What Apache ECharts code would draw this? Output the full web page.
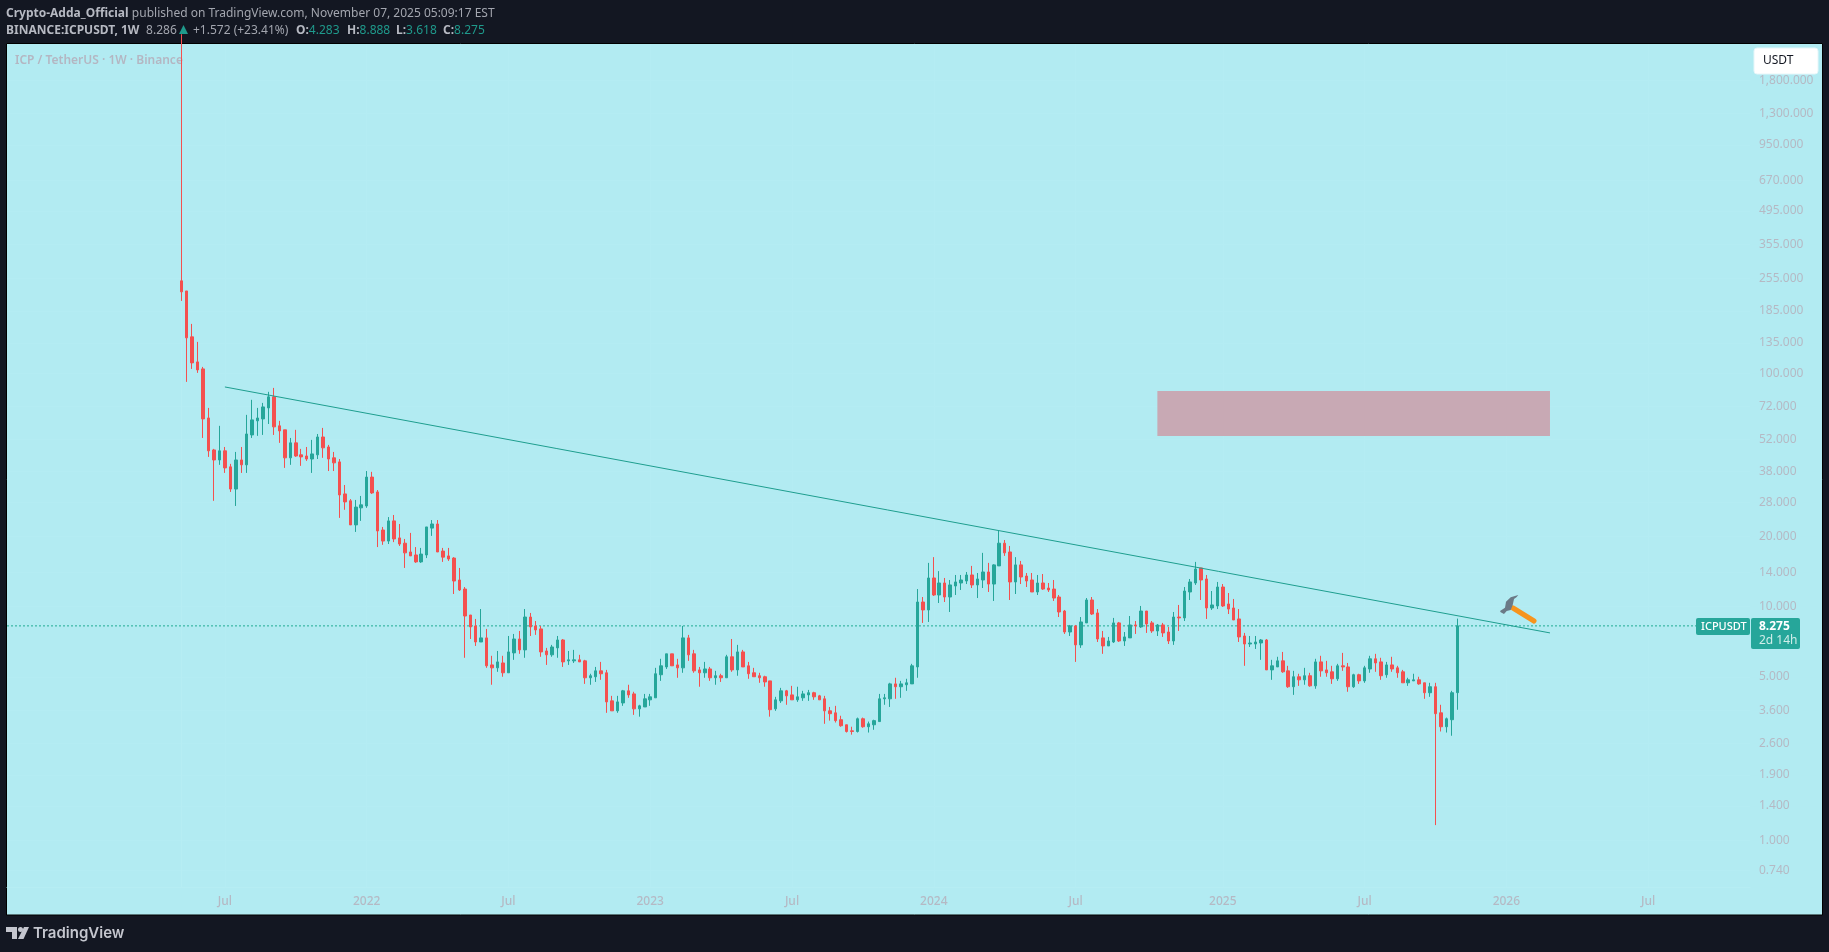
<!DOCTYPE html>
<html>
<head>
<meta charset="utf-8">
<title>ICPUSDT 1W</title>
<style>
    html, body { margin: 0; padding: 0; background: #131722; }
    #chart { width: 1829px; height: 952px; }
</style>
<script src="https://cdn.jsdelivr.net/npm/echarts@6/dist/echarts.min.js"></script>
</head>
<body>
<div id="chart"></div>
<script>
const opens = [
    248.6,225,143.1,111.8,104.3,64.3,46.9,42.5,46.5,39.7,
    31.9,42.5,40.5,54.4,62.5,63.7,71.0,79.2,59.5,57.2,
    43.4,50.3,44.7,44.2,42.9,44.7,53.3,48.3,43.4,41.7,
    30.4,28.4,22.4,26.5,27.0,35.9,31.0,21.3,19.1,23.3,
    19.7,18.7,17.15,16.65,15.55,16.65,21.7,22.6,17.3,16.5,
    16.15,13.01,11.9,9.21,8.27,7.06,7.35,5.63,5.47,5.74,
    5.21,6.34,7.27,6.53,9.03,8.27,8.03,6.46,6.22,6.66,
    7.20,5.86,5.86,5.92,5.86,4.96,5.01,5.31,5.21,3.95,
    3.58,3.87,4.36,4.23,3.65,3.72,3.99,4.07,5.11,5.52,
    6.28,5.63,5.47,7.35,6.28,5.36,5.21,5.41,4.96,5.06,
    4.96,6.10,5.36,6.40,5.58,5.21,5.06,5.01,4.81,3.65,
    3.95,4.36,4.19,3.99,4.07,4.19,4.28,4.15,4.03,3.58,
    3.51,3.28,3.12,2.94,2.92,3.31,3.06,3.12,3.22,4.03,
    4.03,4.67,4.54,4.63,4.67,5.52,10.47,9.68,13.27,11.22,
    12.63,11.0,12.26,12.63,12.88,13.67,12.39,13.01,14.08,12.5,
    14.95,18.7,17.15,12.76,15.1,13.53,13.01,11.56,12.63,12.02,
    11.9,11.0,9.58,7.79,8.27,6.86,8.52,10.68,9.40,7.35,
    6.79,7.06,8.52,7.13,7.35,8.35,8.19,9.58,8.52,7.87,
    8.35,7.79,7.13,9.03,8.95,11.56,12.63,14.65,13.14,9.87,
    10.07,12.14,10.27,9.87,8.86,7.49,6.92,6.92,6.99,7.20,
    5.36,5.52,5.86,5.31,4.54,5.01,4.86,5.06,4.58,5.80,
    5.36,5.26,4.91,5.58,5.52,4.54,5.11,4.81,5.41,5.98,
    5.80,5.11,5.63,5.47,5.26,4.72,4.81,4.86,4.72,4.28,
    4.54,3.51,3.06,3.28,4.283
];
const closes = [
    223,141.7,110.7,103.3,63.7,46.5,42.5,46.5,39.3,31.9,
    42.5,40.5,54.9,63.1,64.3,71.7,79.2,58.9,56.6,43.4,
    50.3,44.2,43.8,42.9,45.1,53.3,47.9,42.9,41.3,30.1,
    28.1,22.4,26.7,27.3,35.9,30.7,21.1,19.1,23.3,19.5,
    18.55,17.0,16.5,15.55,16.8,21.95,22.6,17.15,16.3,16.0,
    12.88,11.79,9.12,8.19,7.06,7.35,5.58,5.47,5.80,5.21,
    6.40,7.27,6.53,9.03,8.19,7.95,6.40,6.22,6.72,7.20,
    5.80,5.92,5.92,5.80,4.96,5.06,5.31,5.16,3.91,3.58,
    3.91,4.36,4.19,3.65,3.76,4.03,4.11,5.16,5.58,6.28,
    5.58,5.47,7.35,6.22,5.31,5.21,5.41,4.96,5.06,4.96,
    6.10,5.36,6.40,5.52,5.16,5.01,4.96,4.76,3.62,3.99,
    4.36,4.15,3.99,4.11,4.23,4.28,4.11,3.99,3.58,3.48,
    3.25,3.09,2.92,2.92,3.31,3.06,3.15,3.25,4.03,4.07,
    4.67,4.54,4.67,4.72,5.58,10.47,9.68,13.27,11.22,12.63,
    11.0,12.39,12.76,13.01,13.67,12.39,13.14,14.08,12.5,15.1,
    18.7,17.0,12.76,15.1,13.4,12.88,11.56,12.63,11.9,11.79,
    10.89,9.49,7.79,8.27,6.86,8.60,10.68,9.30,7.27,6.79,
    7.13,8.52,7.13,7.42,8.35,8.27,9.58,8.43,7.87,8.35,
    7.72,7.13,9.03,8.95,11.67,12.76,14.5,13.01,9.87,10.17,
    12.14,10.07,9.77,8.77,7.42,6.92,6.99,7.06,7.20,5.36,
    5.58,5.86,5.26,4.54,5.01,4.86,5.06,4.58,5.80,5.31,
    5.21,4.91,5.58,5.52,4.54,5.11,4.81,5.47,5.98,5.74,
    5.06,5.63,5.41,5.21,4.72,4.86,4.86,4.67,4.28,4.54,
    3.48,3.06,3.31,4.28,8.275
];
const lows = [
    204,91.8,104.3,100.3,52.8,43.8,28.4,40.5,37.4,31.0,
    27.0,37.4,37.4,52.8,53.9,54.4,60.6,54.4,50.3,39.3,
    40.5,43.8,40.1,42.1,37.4,42.9,43.4,38.1,38.1,24.0,
    26.0,22.4,20.9,23.3,26.5,30.4,18.0,18.4,18.55,18.9,
    18.2,14.65,16.5,15.4,15.4,16.15,20.1,17.15,15.55,15.7,
    11.33,11.67,6.04,7.27,6.79,7.06,5.47,4.63,5.26,5.01,
    5.21,5.92,6.28,6.04,7.49,7.57,6.10,5.63,6.10,6.04,
    5.52,5.63,5.74,5.80,4.67,4.63,4.76,4.86,3.51,3.58,
    3.51,3.76,4.07,3.44,3.38,3.72,3.76,4.07,4.81,5.41,
    5.58,4.96,5.21,5.86,5.21,4.54,4.96,4.81,4.63,4.76,
    4.96,5.26,5.06,5.52,4.91,5.01,4.72,4.54,3.38,3.58,
    3.87,3.80,3.99,3.91,3.95,3.95,3.99,3.99,3.15,3.25,
    3.19,3.06,2.89,2.83,2.89,3.03,2.89,2.97,3.22,3.80,
    3.72,4.03,4.07,4.36,4.67,4.96,8.52,8.60,11.11,10.37,
    10.47,9.49,11.22,11.79,12.5,12.02,10.89,12.02,11.56,10.58,
    14.95,16.5,10.68,11.33,12.5,12.14,11.56,11.22,11.79,11.56,
    10.58,9.03,7.64,7.49,5.80,6.66,8.52,9.21,7.06,6.28,
    6.79,6.99,7.06,6.79,7.35,7.64,8.11,7.72,7.72,7.49,
    7.42,6.92,6.86,7.87,8.68,10.68,12.39,10.68,8.86,9.68,
    9.77,9.97,9.30,8.77,7.06,5.58,6.72,6.59,5.92,5.36,
    4.86,5.52,5.21,4.49,4.19,4.58,4.63,4.54,4.45,5.01,
    5.01,4.67,4.81,5.31,4.32,4.49,4.67,4.72,5.21,5.26,
    4.86,4.96,5.26,4.96,4.72,4.58,4.81,4.63,4.03,4.11,
    1.16,2.92,2.89,2.80,3.618
];
const highs = [
    2830,225,162.6,136.2,106.4,71.0,47.4,59.5,48.3,40.9,
    46.0,48.3,66.3,76.9,71.0,74.6,83.2,86.5,62.5,57.2,
    52.8,57.2,47.4,48.3,51.8,54.9,58.3,49.3,46.0,42.9,
    33.2,28.9,28.65,29.8,38.1,37.8,31.6,21.95,24.2,24.7,
    22.6,19.5,20.7,18.0,17.85,21.95,23.5,23.5,17.85,17.85,
    16.3,14.65,12.14,9.21,8.86,9.77,8.03,6.16,6.46,6.16,
    7.49,7.64,7.87,9.77,9.40,8.68,8.27,6.66,6.86,7.49,
    7.27,6.46,6.53,6.22,5.92,5.16,5.52,5.80,5.36,4.15,
    4.15,4.40,4.63,4.32,3.80,4.23,4.23,5.47,5.98,6.28,
    6.28,5.98,8.27,7.57,6.53,5.52,5.80,5.52,5.31,5.16,
    6.22,7.27,6.86,6.53,5.80,5.47,5.21,5.06,4.81,4.11,
    4.49,4.40,4.58,4.54,4.36,4.40,4.32,4.19,4.15,3.72,
    3.76,3.41,3.12,3.06,3.35,3.35,3.22,3.28,4.23,4.23,
    4.72,4.96,4.81,4.91,5.69,11.9,11.0,15.4,16.3,14.2,
    13.27,13.01,13.67,13.67,14.08,14.95,13.94,17.0,15.4,15.2,
    21.1,19.3,18.2,16.3,15.7,13.94,13.94,13.67,13.8,12.63,
    13.01,11.22,9.68,8.35,8.35,9.03,10.89,11.0,9.77,7.87,
    7.42,8.95,8.60,7.79,9.12,8.68,10.07,9.58,8.68,8.43,
    8.52,8.19,9.49,10.17,12.14,13.14,15.55,14.65,13.67,11.67,
    12.76,12.5,11.44,10.79,9.77,7.72,7.49,7.49,7.27,7.27,
    5.92,6.10,6.40,5.58,5.31,5.16,5.47,5.21,5.98,6.16,
    5.86,5.58,5.69,6.34,5.74,5.16,5.16,5.58,6.16,6.28,
    6.04,5.80,6.10,5.58,5.36,4.96,5.16,5.01,4.72,4.72,
    4.72,3.80,3.35,4.36,8.888
];

const priceTicks = [1800, 1300, 950, 670, 495, 355, 255, 185, 135, 100, 72, 52, 38, 28, 20, 14, 10, 5, 3.6, 2.6, 1.9, 1.4, 1, 0.74];
const timeTickDates = ['2021-07-05', '2022-01-03', '2022-07-04', '2023-01-02', '2023-07-03', '2024-01-01', '2024-07-01', '2025-01-06', '2025-07-07', '2026-01-05', '2026-07-06'];
const timeTickLabels = ['Jul', '2022', 'Jul', '2023', 'Jul', '2024', 'Jul', '2025', 'Jul', '2026', 'Jul'];

const trendDates = ['2021-07-05', '2026-03-02'];
const trendPrices = [87.3, 7.72];
const zoneDates = ['2024-10-14', '2026-03-02'];
const zonePrices = [83.9, 53.8];
const lastPrice = 8.275;

// header readout: label, value and where each pair starts
const ohlcLabels = ['O:', 'H:', 'L:', 'C:'];
const ohlcValues = ['4.283', '8.888', '3.618', '8.275'];
const ohlcX = [296, 347, 396, 443];

// x axis runs in weeks counted from the first candle
const WEEK = 7 * 24 * 3600 * 1000;
const firstWeek = Date.UTC(2021, 4, 10);
const xMin = -31.96;
const xMax = 287.68;
const weekOf = (d) => Math.round((new Date(d + 'T00:00:00Z').getTime() - firstWeek) / WEEK);
const timeTicks = timeTickDates.map(weekOf);

const UP = '#26A69A';
const DOWN = '#F4504F';
const LABEL = '#B5B9C4';
const FONT = '"Noto Sans", sans-serif';
const HEADER_Y1 = 13.5;
const HEADER_Y2 = 30.5;

const candles = opens.map((o, i) => [i, o, closes[i], lows[i], highs[i]]);

const richHeader = {
    b: { fontFamily: FONT, fontSize: 12, fontWeight: 700, fill: '#B6B9C2' },
    r: { fontFamily: FONT, fontSize: 12, fill: '#A3A6AF' },
    g: { fontFamily: FONT, fontSize: 12, fill: '#1F9A8C' },
};

const ohlcElements = ohlcLabels.map((label, i) => ({
    type: 'text', x: ohlcX[i], y: HEADER_Y2, z: 50,
    style: { text: '{b|' + label + '}{g|' + ohlcValues[i] + '}', verticalAlign: 'middle', rich: richHeader },
}));

const chart = echarts.init(document.getElementById('chart'), null, { renderer: 'canvas' });

chart.setOption({
    animation: false,
    backgroundColor: '#131722',
    textStyle: { fontFamily: FONT },
    grid: { left: 7, right: 79, top: 44, bottom: 65 },
    xAxis: {
        type: 'value',
        min: xMin,
        max: xMax,
        axisLine: { show: true, onZero: false, lineStyle: { color: '#B6EDF3', width: 1 } },
        axisTick: { show: false, customValues: timeTicks },
        splitLine: { show: true, lineStyle: { color: '#B4ECF3', width: 1 } },
        axisLabel: {
            customValues: timeTicks,
            margin: 9,
            fontFamily: FONT,
            color: LABEL,
            fontSize: 12,
            fontWeight: 500,
            formatter: (value) => {
                const idx = timeTicks.indexOf(value);
                return idx >= 0 ? timeTickLabels[idx] : '';
            },
        },
    },
    yAxis: {
        type: 'log',
        logBase: 10,
        position: 'right',
        min: 0.63,
        max: 2570,
        axisLine: { show: true, lineStyle: { color: '#B6EDF3', width: 1 } },
        axisTick: { show: false, customValues: priceTicks },
        splitLine: { show: true, lineStyle: { color: '#B4ECF3', width: 1 } },
        axisLabel: {
            customValues: priceTicks,
            margin: 9,
            padding: [3, 0, 0, 0],
            fontFamily: FONT,
            color: LABEL,
            fontSize: 12,
            formatter: (value) => Number(value).toLocaleString('en-US', { minimumFractionDigits: 3, maximumFractionDigits: 3 }),
        },
    },
    series: [
        {
            type: 'line',
            name: 'zone',
            data: [],
            symbol: 'none',
            z: 1,
            markArea: {
                silent: true,
                itemStyle: { color: '#C8A9B4', opacity: 1 },
                data: [[
                    { xAxis: weekOf(zoneDates[0]), yAxis: zonePrices[0] },
                    { xAxis: weekOf(zoneDates[1]), yAxis: zonePrices[1] },
                ]],
            },
        },
        {
            type: 'line',
            name: 'last price',
            data: [[xMin, lastPrice], [xMax, lastPrice]],
            symbol: 'none',
            silent: true,
            z: 2,
            lineStyle: { color: '#22AB94', width: 1, type: [2, 2] },
        },
        {
            type: 'candlestick',
            name: 'ICPUSDT',
            data: candles,
            encode: { x: 0, y: [1, 2, 3, 4] },
            barWidth: 3,
            clip: true,
            z: 3,
            itemStyle: {
                color: UP,
                color0: DOWN,
                borderColor: UP,
                borderColor0: DOWN,
                borderWidth: 1,
            },
        },
        {
            type: 'line',
            name: 'trend',
            data: [[weekOf(trendDates[0]), trendPrices[0]], [weekOf(trendDates[1]), trendPrices[1]]],
            symbol: 'none',
            silent: true,
            z: 4,
            lineStyle: { color: '#1E9E8F', width: 1 },
        },
    ],
    graphic: { elements: [
        // pane behind the plot
        { type: 'rect', z: -1, shape: { x: 6.5, y: 43.5, width: 1816, height: 871.5 }, style: { fill: '#B2EBF2', stroke: '#000' } },
        // header lines
        {
            type: 'text', x: 6, y: HEADER_Y1, z: 50,
            style: {
                text: '{b|Crypto-Adda_Official} {r|published on TradingView.com, November 07, 2025 05:09:17 EST}',
                verticalAlign: 'middle',
                rich: richHeader,
            },
        },
        {
            type: 'text', x: 6, y: HEADER_Y2, z: 50,
            style: {
                text: '{b|BINANCE:ICPUSDT, 1W}  {r|8.286}',
                verticalAlign: 'middle',
                rich: richHeader,
            },
        },
        {
            type: 'polygon', z: 50,
            shape: { points: [[179, 34], [188, 34], [183.5, 25]] },
            style: { fill: '#1F9A8C' },
        },
        {
            type: 'text', x: 193, y: HEADER_Y2, z: 50,
            style: { text: '{r|+1.572 (+23.41%)}', verticalAlign: 'middle', rich: richHeader },
        },
        ...ohlcElements,
        // watermark title
        {
            type: 'text', x: 15, y: 60.5, z: 1,
            style: { text: 'ICP / TetherUS · 1W · Binance', verticalAlign: 'middle', fontFamily: FONT, fontSize: 12, fontWeight: 600, fill: '#B4B6C2' },
        },
        // currency button
        { type: 'rect', z: 50, shape: { x: 1754, y: 48, width: 64, height: 26, r: 3 }, style: { fill: '#fff', stroke: '#E6F6F9' } },
        {
            type: 'text', x: 1763, y: 61, z: 51,
            style: { text: 'USDT', verticalAlign: 'middle', fontFamily: FONT, fontSize: 12, fill: '#131722' },
        },
        // last price tags
        { type: 'rect', z: 50, shape: { x: 1696, y: 618, width: 54, height: 17, r: 2 }, style: { fill: '#26A69A' } },
        {
            type: 'text', x: 1701, y: 626.5, z: 51,
            style: { text: 'ICPUSDT', verticalAlign: 'middle', fontFamily: FONT, fontSize: 11, fontWeight: 500, fill: '#fff' },
        },
        { type: 'rect', z: 50, shape: { x: 1751, y: 618, width: 49, height: 31, r: 2 }, style: { fill: '#26A69A' } },
        {
            type: 'text', x: 1759, y: 626.5, z: 51,
            style: { text: '8.275', verticalAlign: 'middle', fontFamily: FONT, fontSize: 12, fontWeight: 700, fill: '#fff' },
        },
        {
            type: 'text', x: 1759, y: 641, z: 51,
            style: { text: '2d 14h', verticalAlign: 'middle', fontFamily: FONT, fontSize: 12, fill: '#CFEDE9' },
        },
        // hammer drawing
        {
            type: 'line', z: 40,
            shape: { x1: 1513, y1: 608, x2: 1534, y2: 621 },
            style: { stroke: '#F7941D', lineWidth: 5, lineCap: 'round' },
        },
        {
            type: 'polygon', z: 41,
            shape: { points: [[1500, 611], [1505, 607.7], [1506, 601.7], [1510.7, 597.3], [1518.3, 595], [1516.7, 597], [1514, 599], [1512.7, 605], [1510.7, 610], [1506.7, 611], [1504, 614], [1500.7, 612.3]] },
            style: { fill: '#6B7A87' },
        },
        // TradingView logo
        { type: 'polygon', z: 50, shape: { points: [[6, 927], [17, 927], [17, 939], [12, 939], [12, 932], [6, 932]] }, style: { fill: '#C4C6CE' } },
        { type: 'circle', z: 50, shape: { cx: 20.5, cy: 929.5, r: 2.5 }, style: { fill: '#C4C6CE' } },
        { type: 'polygon', z: 50, shape: { points: [[24, 927], [29, 927], [23.5, 939], [18, 939]] }, style: { fill: '#C4C6CE' } },
        {
            type: 'text', x: 33, y: 933, z: 50,
            style: { text: 'TradingView', verticalAlign: 'middle', fontFamily: 'Inter, sans-serif', fontSize: 15, fontWeight: 600, fill: '#C4C6CE' },
        },
    ] },
});

window.addEventListener('resize', () => chart.resize());
</script>
</body>
</html>
